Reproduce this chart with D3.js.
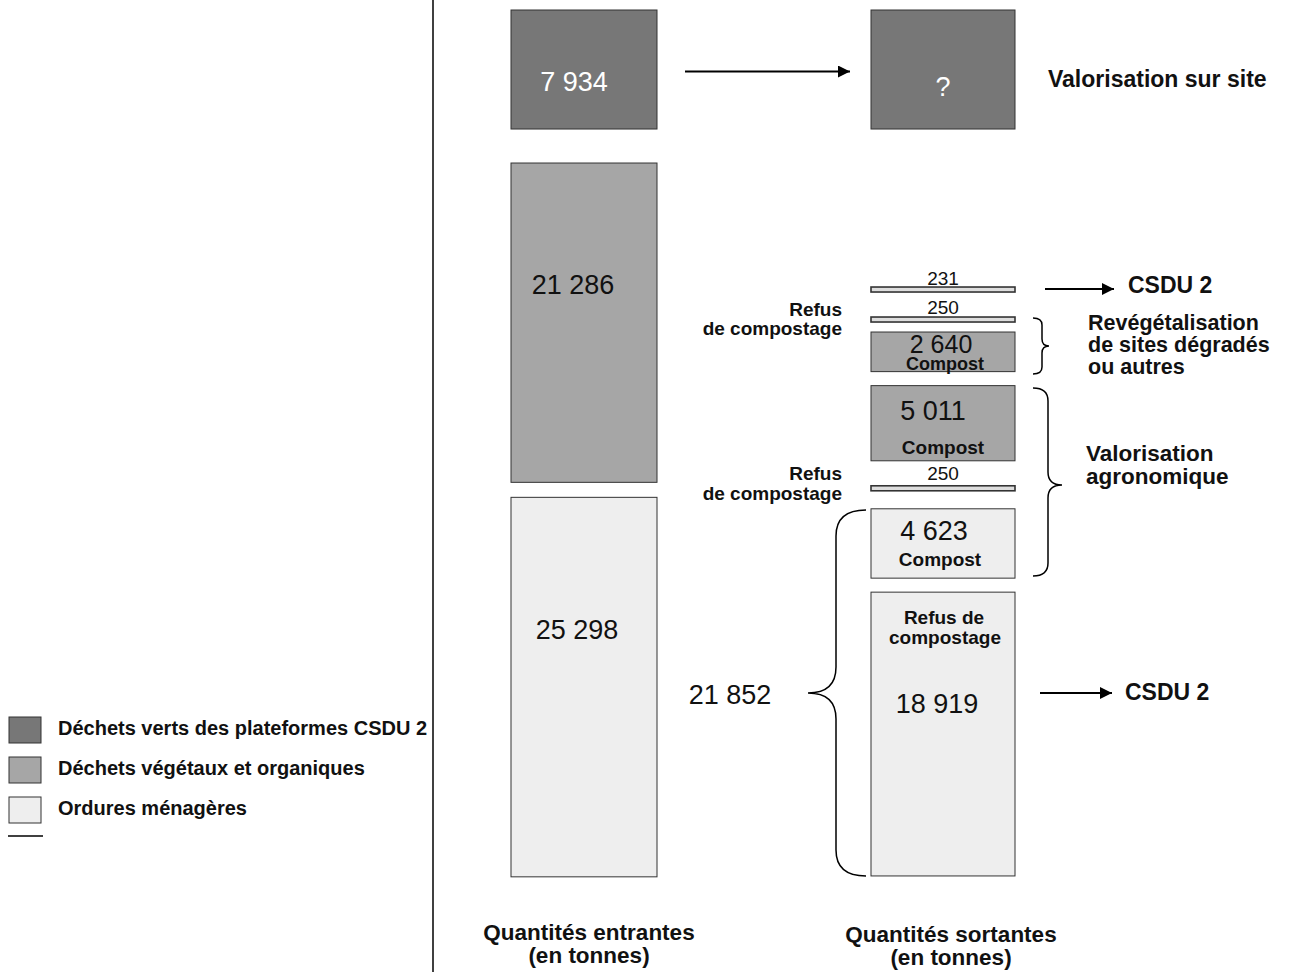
<!DOCTYPE html>
<html>
<head>
<meta charset="utf-8">
<script src="https://cdn.jsdelivr.net/npm/d3@7"></script>
<style>
  body { margin: 0; background: #fff; }
  svg { display: block; font-family: "Liberation Sans", Arial, sans-serif; }
  .bold { font-weight: bold; }
</style>
</head>
<body>
<script>
width = 1302;
height = 972;

// categories (legend)
const categories = ["Déchets verts des plateformes CSDU 2", "Déchets végétaux et organiques", "Ordures ménagères"];
const categoryColors = ["#777777", "#a6a6a6", "#eeeeee"];

// incoming tonnage, one box per category
const inValues = [7934, 21286, 25298];
const inLabels = ["7 934", "21 286", "25 298"];

// outgoing tonnage (null = unknown, drawn with the size of its input)
const outCategory = [0, 1, 1, 1, 1, 1, 2, 2];
const outValues = [null, 231, 250, 2640, 5011, 250, 4623, 18919];
const outLabels = ["?", "231", "250", "2 640", "5 011", "250", "4 623", "18 919"];
const outSubLabels = [[], [], [], ["Compost"], ["Compost"], [], ["Compost"], ["Refus de", "compostage"]];

const totalOM = "21 852";
const destinations = ["Valorisation sur site", "CSDU 2", "Revégétalisation|de sites dégradés|ou autres", "Valorisation|agronomique", "CSDU 2"];
const axisTitles = ["Quantités entrantes|(en tonnes)", "Quantités sortantes|(en tonnes)"];

// layout
const inX = 511, outX = 871, boxW = 146, outW = 144;
const inGaps = [10, 34, 15];
const outGaps = [10, 158, 25, 10, 14, 25, 18, 14];
const inNumPos = [[-10, 81], [-11, 131], [-7, 142]];
const outNumPos = [[0, 86], [0, -2], [0, -3], [-2, 21], [-10, 34], [0, -6], [-9, 31], [-6, 121]];
const outSubPos = [[], [], [], [[2, 38]], [[0, 68]], [], [[-3, 57]], [[1, 32], [2, 52]]];

const k = d3.scaleLinear().domain([0, 25298]).range([0, 379.5]);
const color = d3.scaleOrdinal().domain(d3.range(3)).range(categoryColors);

const svg = d3.select("body").append("svg")
  .attr("width", width).attr("height", height)
  .attr("viewBox", [0, 0, width, height]);

svg.append("defs").append("marker")
  .attr("id", "head").attr("viewBox", "0 0 10 10")
  .attr("refX", 10).attr("refY", 5)
  .attr("markerWidth", 8).attr("markerHeight", 6)
  .attr("markerUnits", "strokeWidth")
  .attr("orient", "auto")
  .append("path").attr("d", "M0,0 L10,5 L0,10 Z").attr("fill", "#000");

// divider
svg.append("line").attr("x1", 433).attr("x2", 433).attr("y1", 0).attr("y2", height)
  .attr("stroke", "#000").attr("stroke-width", 1.5);

// stacks
function stack(values, gaps, minH) {
  var y = 0;
  return values.map(function (v, i) {
    y += gaps[i];
    var h = Math.max(minH, k(v));
    var r = { y: y, h: h };
    y += h;
    return r;
  });
}
const inPos = stack(inValues, inGaps, 5);
const outPos = stack(outValues.map((v, i) => v == null ? inValues[outCategory[i]] : v), outGaps, 5);

// incoming boxes
const gin = svg.append("g");
gin.selectAll("rect").data(inValues).enter().append("rect")
  .attr("x", inX).attr("y", (d, i) => inPos[i].y)
  .attr("width", boxW).attr("height", (d, i) => inPos[i].h)
  .attr("fill", (d, i) => color(i)).attr("stroke", "#333").attr("stroke-width", 1);
gin.selectAll("text").data(inLabels).enter().append("text")
  .attr("x", (d, i) => inX + boxW / 2 + inNumPos[i][0])
  .attr("y", (d, i) => inPos[i].y + inNumPos[i][1])
  .attr("text-anchor", "middle").attr("font-size", 27)
  .attr("fill", (d, i) => i == 0 ? "#fff" : "#111")
  .text(d => d);

// outgoing boxes
const gout = svg.append("g");
gout.selectAll("rect").data(outValues).enter().append("rect")
  .attr("x", outX).attr("y", (d, i) => outPos[i].y)
  .attr("width", outW).attr("height", (d, i) => outPos[i].h)
  .attr("fill", (d, i) => outPos[i].h <= 5 ? "#ddd" : color(outCategory[i]))
  .attr("stroke", "#333").attr("stroke-width", (d, i) => outPos[i].h <= 5 ? 1.6 : 1);
gout.selectAll("text.num").data(outLabels).enter().append("text")
  .attr("class", "num")
  .attr("x", (d, i) => outX + outW / 2 + outNumPos[i][0])
  .attr("y", (d, i) => outPos[i].y + outNumPos[i][1])
  .attr("text-anchor", "middle")
  .attr("font-size", (d, i) => outPos[i].h <= 5 ? 19 : (i == 3 ? 25 : 27))
  .attr("fill", (d, i) => outCategory[i] == 0 ? "#fff" : "#111")
  .text(d => d);
outSubLabels.forEach(function (lines, i) {
  lines.forEach(function (t, j) {
    gout.append("text").attr("class", "bold")
      .attr("x", outX + outW / 2 + outSubPos[i][j][0])
      .attr("y", outPos[i].y + outSubPos[i][j][1])
      .attr("text-anchor", "middle").attr("font-size", i == 3 ? 18 : 19).attr("fill", "#111")
      .text(t);
  });
});

// "Refus de compostage" captions beside the thin bars
[2, 5].forEach(function (i, n) {
  var g = svg.append("g").attr("class", "bold").attr("font-size", 19)
    .attr("text-anchor", "end").attr("fill", "#111");
  g.append("text").attr("x", 842).attr("y", outPos[i].y - (n ? 6 : 1)).text("Refus");
  g.append("text").attr("x", 842).attr("y", outPos[i].y + (n ? 14 : 18)).text("de compostage");
});

// arrows
function arrow(x1, x2, y) {
  svg.append("line").attr("x1", x1).attr("x2", x2).attr("y1", y).attr("y2", y)
    .attr("stroke", "#000").attr("stroke-width", 2).attr("marker-end", "url(#head)");
}
arrow(685, 850, inPos[0].y + inPos[0].h / 2 + 2);
arrow(1045, 1114, outPos[1].y + 2);
arrow(1040, 1112, 693);

function multiline(text, x, y, size, lh, anchor) {
  var t = svg.append("text").attr("class", "bold").attr("font-size", size)
    .attr("text-anchor", anchor || "start").attr("fill", "#111");
  text.split("|").forEach(function (s, j) {
    t.append("tspan").attr("x", x).attr("y", y + j * lh).text(s);
  });
}
multiline(destinations[0], 1048, 87, 23, 22);
multiline(destinations[1], 1128, 293, 23, 22);
multiline(destinations[2], 1088, 330, 21.5, 22);
multiline(destinations[3], 1086, 461, 22.5, 23);
multiline(destinations[4], 1125, 700, 23, 22);
multiline(axisTitles[0], 589, 940, 22.5, 23, "middle");
multiline(axisTitles[1], 951, 942, 22.5, 23, "middle");

// braces
function brace(xEnd, xMid, xTip, y1, y2, yTip, r) {
  var p = d3.path();
  p.moveTo(xEnd, y1);
  p.quadraticCurveTo(xMid, y1, xMid, y1 + r);
  p.lineTo(xMid, yTip - r);
  p.quadraticCurveTo(xMid, yTip, xTip, yTip);
  p.quadraticCurveTo(xMid, yTip, xMid, yTip + r);
  p.lineTo(xMid, y2 - r);
  p.quadraticCurveTo(xMid, y2, xEnd, y2);
  svg.append("path").attr("d", p.toString()).attr("fill", "none")
    .attr("stroke", "#000").attr("stroke-width", 1.5);
}
brace(1033, 1042, 1049, 318, 374, 346, 7);
brace(1033, 1048, 1062, 388, 576, 485, 13);
brace(866, 836, 808, 510, 876, 693, 26);

svg.append("text").attr("x", 730).attr("y", 704).attr("text-anchor", "middle")
  .attr("font-size", 27).attr("fill", "#111").text(totalOM);

// legend
const legend = svg.append("g").selectAll("g").data(categories).enter().append("g")
  .attr("transform", (d, i) => `translate(9,${717 + i * 40})`);
legend.append("rect").attr("width", 32).attr("height", 26)
  .attr("fill", (d, i) => color(i)).attr("stroke", "#333").attr("stroke-width", 1);
legend.append("text").attr("class", "bold").attr("x", 49).attr("y", 18)
  .attr("font-size", 20).attr("fill", "#111").text(d => d);
svg.append("line").attr("x1", 8).attr("x2", 43).attr("y1", 836).attr("y2", 836)
  .attr("stroke", "#000").attr("stroke-width", 1.5);
</script>
</body>
</html>
